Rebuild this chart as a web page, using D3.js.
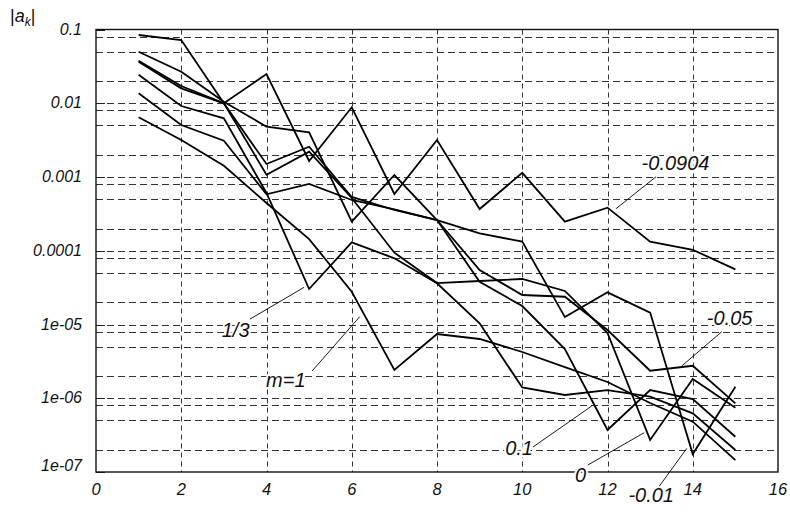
<!DOCTYPE html>
<html>
<head>
<meta charset="utf-8">
<script src="https://cdn.jsdelivr.net/npm/d3@7/dist/d3.min.js"></script>
<style>
  body { margin: 0; background: #fff; }
  svg text { font-family: "Liberation Sans", Arial, sans-serif; font-style: italic; }
</style>
</head>
<body>
<div id="chart"></div>
<script>
// indices k of the coefficients
var ks = [1, 2, 3, 4, 5, 6, 7, 8, 9, 10, 11, 12, 13, 14, 15];

// |a_k| for every value of the parameter
var sM0904 = [0.0842, 0.072, 0.00998, 0.0249, 0.00165, 0.00881, 0.000588, 0.00318, 0.000368, 0.00114, 0.000248, 0.000384, 0.000133, 0.000103, 5.6e-5];
var sM005  = [0.05, 0.0268, 0.0105, 0.00481, 0.00404, 0.000248, 0.001064, 0.000261, 5.48e-5, 2.51e-5, 2.38e-5, 8.42e-6, 2.36e-6, 2.76e-6, 8.54e-7];
var s01    = [0.0378, 0.01714, 0.00998, 0.0015, 0.002575, 0.000536, 0.000357, 0.000261, 3.8e-5, 1.78e-5, 4.65e-6, 3.71e-7, 1.29e-6, 9.77e-7, 3.01e-7];
var s0     = [0.0366, 0.01594, 0.00998, 0.001075, 0.0022, 0.000519, 9.41e-5, 3.65e-5, 3.89e-5, 4.14e-5, 2.85e-5, 7.67e-6, 2.72e-7, 1.82e-6, 7.44e-7];
var s13    = [0.02438, 0.00918, 0.00625, 0.000607, 3.03e-5, 1.3e-4, 7.9e-5, 3.62e-5, 1.04e-5, 1.4e-6, 1.107e-6, 1.29e-6, 1.05e-6, 6.25e-7, 1.99e-7];
var sM001  = [0.01364, 0.00507, 0.00311, 0.000583, 0.000804, 0.000488, 0.000365, 0.000261, 0.000172, 0.000133, 1.26e-5, 2.73e-5, 1.45e-5, 1.75e-7, 1.43e-6];
var sM1    = [0.00645, 0.00318, 0.00142, 0.000444, 1.44e-4, 2.78e-5, 2.42e-6, 7.43e-6, 6.36e-6, 4.24e-6, 2.65e-6, 1.66e-6, 8.62e-7, 4.81e-7, 1.45e-7];

var allSeries = [sM0904, sM005, s01, s0, s13, sM001, sM1];

// axes
var xTicks = [0, 2, 4, 6, 8, 10, 12, 14, 16];
var yTicks = [1e-7, 1e-6, 1e-5, 1e-4, 1e-3, 1e-2, 1e-1];
var yTickLabels = ["1e-07", "1e-06", "1e-05", "0.0001", "0.001", "0.01", "0.1"];
var yMinorMult = [2, 5, 8];

// curve labels: text position and leader line, in data units
var notes = [
  { text: "-0.0904", x: 12.80, y: 1.245e-3, x1: 13.14, y1: 1.01e-3, x2: 12.20, y2: 3.72e-4 },
  { text: "1/3",     x: 2.95,  y: 6.84e-6,  x1: 3.61,  y1: 1.18e-5, x2: 4.88,  y2: 3.19e-5 },
  { text: "m=1",     x: 3.99,  y: 1.42e-6,  x1: 5.07,  y1: 2.34e-6, x2: 6.19,  y2: 1.28e-5 },
  { text: "-0.05",   x: 14.33, y: 9.84e-6,  x1: 14.68, y1: 7.98e-6, x2: 13.74, y2: 2.73e-6 },
  { text: "0.1",     x: 9.6,   y: 1.70e-7,  x1: 10.25, y1: 2.18e-7, x2: 11.63, y2: 7.85e-7 },
  { text: "0",       x: 11.24, y: 7.4e-8,   x1: 11.54, y1: 1.245e-7, x2: 12.86, y2: 3.41e-7 },
  { text: "-0.01",   x: 12.49, y: 3.98e-8,  x1: 13.15, y1: 5.7e-8,  x2: 13.86, y2: 2.09e-7 }
];

var width = 790, height = 517;
var mLeft = 96, mRight = 778, mTop = 29.5, mBottom = 472;

var svg = d3.select("#chart").append("svg")
    .attr("width", width)
    .attr("height", height);

var x = d3.scaleLinear().domain([0, 16]).range([mLeft, mRight]);
var y = d3.scaleLog().domain([1e-7, 0.1]).range([mBottom, mTop]);

// horizontal grid (decades and 2,5,8 multiples)
var gridVals = [];
yTicks.forEach(function(d) {
  gridVals.push(d);
  if (d < 0.1) yMinorMult.forEach(function(m) { gridVals.push(d * m); });
});

svg.append("g").selectAll("line")
    .data(gridVals.filter(function(d) { return d > 1.0001e-7 && d < 0.0999; }))
    .enter().append("line")
    .attr("x1", mLeft).attr("x2", mRight)
    .attr("y1", function(d) { return Math.round(y(d)) + 0.5; })
    .attr("y2", function(d) { return Math.round(y(d)) + 0.5; })
    .attr("stroke", "#333")
    .attr("stroke-width", 1)
    .attr("stroke-dasharray", "7,4");

// vertical grid
svg.append("g").selectAll("line")
    .data(xTicks.slice(1, -1))
    .enter().append("line")
    .attr("x1", function(d) { return Math.round(x(d)) + 0.5; })
    .attr("x2", function(d) { return Math.round(x(d)) + 0.5; })
    .attr("y1", mTop).attr("y2", mBottom)
    .attr("stroke", "#333")
    .attr("stroke-width", 1)
    .attr("stroke-dasharray", "5,4");

// major ticks on the left edge
svg.append("g").selectAll("line")
    .data(yTicks)
    .enter().append("line")
    .attr("x1", mLeft).attr("x2", mLeft + 9)
    .attr("y1", function(d) { return Math.round(y(d)) + 0.5; })
    .attr("y2", function(d) { return Math.round(y(d)) + 0.5; })
    .attr("stroke", "#222")
    .attr("stroke-width", 1);

// frame
svg.append("rect")
    .attr("x", mLeft).attr("y", mTop)
    .attr("width", mRight - mLeft).attr("height", mBottom - mTop)
    .attr("fill", "none")
    .attr("stroke", "#111")
    .attr("stroke-width", 1.4);

// tick labels
svg.append("g").selectAll("text")
    .data(yTicks)
    .enter().append("text")
    .attr("x", mLeft - 14)
    .attr("y", function(d, i) { return y(d) + (i === 0 ? -1 : 5); })
    .attr("text-anchor", "end")
    .attr("font-size", 16)
    .attr("fill", "#111")
    .text(function(d, i) { return yTickLabels[i]; });

svg.append("g").selectAll("text")
    .data(xTicks)
    .enter().append("text")
    .attr("x", function(d) { return x(d); })
    .attr("y", mBottom + 23)
    .attr("text-anchor", "middle")
    .attr("font-size", 16.5)
    .attr("fill", "#111")
    .text(function(d) { return d; });

// y axis title |a_k|
var yt = svg.append("text")
    .attr("x", 10).attr("y", 22)
    .attr("font-family", "'DejaVu Serif', 'Liberation Serif', serif")
    .attr("font-size", 18)
    .attr("fill", "#111");
yt.append("tspan").attr("font-style", "normal").text("|");
yt.append("tspan").attr("font-style", "italic").text("a");
yt.append("tspan").attr("font-style", "italic").attr("font-size", 12).attr("dy", 4).text("k");
yt.append("tspan").attr("font-style", "normal").attr("dy", -4).text("|");

// curves
var line = d3.line()
    .x(function(d, i) { return x(ks[i]); })
    .y(function(d) { return y(d); });

svg.append("g").selectAll("path")
    .data(allSeries)
    .enter().append("path")
    .attr("d", line)
    .attr("fill", "none")
    .attr("stroke", "#000")
    .attr("stroke-width", 1.8)
    .attr("stroke-linejoin", "miter");

// labels with leader lines
var ng = svg.append("g");
ng.selectAll("line")
    .data(notes)
    .enter().append("line")
    .attr("x1", function(d) { return x(d.x1); })
    .attr("y1", function(d) { return y(d.y1); })
    .attr("x2", function(d) { return x(d.x2); })
    .attr("y2", function(d) { return y(d.y2); })
    .attr("stroke", "#000")
    .attr("stroke-width", 0.9);

ng.selectAll("text")
    .data(notes)
    .enter().append("text")
    .attr("x", function(d) { return x(d.x); })
    .attr("y", function(d) { return y(d.y); })
    .attr("font-size", 20)
    .attr("fill", "#111")
    .attr("stroke", "#fff")
    .attr("stroke-width", 4)
    .attr("paint-order", "stroke")
    .text(function(d) { return d.text; });
</script>
</body>
</html>
